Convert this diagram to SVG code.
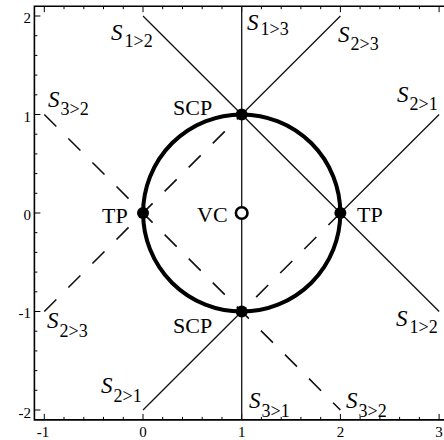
<svg xmlns="http://www.w3.org/2000/svg" width="444" height="440" viewBox="0 0 444 440">
<style>
.frame{fill:none;stroke:#000;stroke-width:1.6}
.tick{stroke:#000;stroke-width:1}
.ln{stroke:#111;stroke-width:1.3;fill:none}
.dash{stroke:#111;stroke-width:1.6;fill:none;stroke-dasharray:17 17}
.circ{fill:none;stroke:#000;stroke-width:4}
.dot{fill:#000}
.open{fill:#fff;stroke:#000;stroke-width:2.6}
.lbl{font-family:"Liberation Serif","Times New Roman",serif;font-size:22px;fill:#000}
.tk{font-family:"Liberation Serif","Times New Roman",serif;font-size:15px;fill:#000}
.s{font-family:"Liberation Serif","Times New Roman",serif;font-size:23px;font-style:italic;fill:#000}
.sub{font-size:18px;font-style:normal}
</style>
<rect width="444" height="440" fill="#fff"/>
<g id="frame">
<path class="frame" d="M450 6.2 H34.4 V419.9 H450"/>
<g class="tick">
<path d="M34.4 16h6M34.4 114.5h6M34.4 213h6M34.4 311.5h6M34.4 410h6"/>
<path d="M34.4 35.7h3M34.4 55.4h3M34.4 75.1h3M34.4 94.8h3M34.4 134.2h3M34.4 153.9h3M34.4 173.6h3M34.4 193.3h3M34.4 232.7h3M34.4 252.4h3M34.4 272.1h3M34.4 291.8h3M34.4 331.2h3M34.4 350.9h3M34.4 370.6h3M34.4 390.3h3"/>
<path d="M44.3 419.9v-6M143 419.9v-6M241.7 419.9v-6M340.4 419.9v-6M439.1 419.9v-6"/>
<path d="M64 419.9v-3M83.8 419.9v-3M103.5 419.9v-3M123.3 419.9v-3M162.7 419.9v-3M182.5 419.9v-3M202.2 419.9v-3M222 419.9v-3M261.4 419.9v-3M281.2 419.9v-3M300.9 419.9v-3M320.7 419.9v-3M360.1 419.9v-3M379.9 419.9v-3M399.6 419.9v-3M419.4 419.9v-3"/>
<path d="M44.3 6.2v6M143 6.2v6M241.7 6.2v6M340.4 6.2v6M439.1 6.2v6"/>
<path d="M64 6.2v3M83.8 6.2v3M103.5 6.2v3M123.3 6.2v3M162.7 6.2v3M182.5 6.2v3M202.2 6.2v3M222 6.2v3M261.4 6.2v3M281.2 6.2v3M300.9 6.2v3M320.7 6.2v3M360.1 6.2v3M379.9 6.2v3M399.6 6.2v3M419.4 6.2v3"/>
</g>
<g class="tk" text-anchor="end">
<text x="31" y="23">2</text>
<text x="31" y="122">1</text>
<text x="31" y="220">0</text>
<text x="31" y="318">-1</text>
<text x="31" y="418">-2</text>
</g>
<g class="tk" text-anchor="middle">
<text x="43" y="437">-1</text>
<text x="143" y="437">0</text>
<text x="241.7" y="437">1</text>
<text x="340.4" y="437">2</text>
<text x="439.1" y="437">3</text>
</g>
</g>
<g id="connectors">
<line class="ln" x1="241.7" y1="6.2" x2="241.7" y2="419.9"/>
<line class="ln" x1="143" y1="16" x2="439.1" y2="311.5"/>
<line class="dash" x1="44.3" y1="311.5" x2="241.7" y2="114.5"/>
<line class="ln" x1="241.7" y1="114.5" x2="340.4" y2="16"/>
<line class="ln" x1="439.1" y1="114.5" x2="340.4" y2="213"/>
<line class="dash" x1="340.4" y1="213" x2="241.7" y2="311.5"/>
<line class="ln" x1="241.7" y1="311.5" x2="143" y2="410"/>
<line class="dash" x1="44.3" y1="114.5" x2="340.4" y2="410"/>
</g>
<g id="circle">
<circle class="circ" cx="241.7" cy="213" r="98.6"/>
</g>
<g id="scp-top"><circle class="dot" cx="241.7" cy="114.5" r="6"/><text class="lbl" x="173" y="115">SCP</text></g>
<g id="scp-bottom"><circle class="dot" cx="241.7" cy="311.5" r="6"/><text class="lbl" x="173" y="333">SCP</text></g>
<g id="tp-left"><circle class="dot" cx="143" cy="213" r="6"/><text class="lbl" x="102" y="223">TP</text></g>
<g id="tp-right"><circle class="dot" cx="340.4" cy="213" r="6"/><text class="lbl" x="357" y="222">TP</text></g>
<g id="vc"><circle class="open" cx="241.7" cy="213" r="5.8"/><text class="lbl" x="197" y="222">VC</text></g>
<g id="labels">
<text class="s" x="111" y="40">S<tspan class="sub" dx="2" dy="7">1&gt;2</tspan></text>
<text class="s" x="247" y="30">S<tspan class="sub" dx="2" dy="5">1&gt;3</tspan></text>
<text class="s" x="338" y="42">S<tspan class="sub" dx="1" dy="8">2&gt;3</tspan></text>
<text class="s" x="48" y="107">S<tspan class="sub" dx="1" dy="8">3&gt;2</tspan></text>
<text class="s" x="397" y="102">S<tspan class="sub" dx="1" dy="8">2&gt;1</tspan></text>
<text class="s" x="47" y="328">S<tspan class="sub" dx="1" dy="9">2&gt;3</tspan></text>
<text class="s" x="101" y="393">S<tspan class="sub" dx="1" dy="9">2&gt;1</tspan></text>
<text class="s" x="249" y="408">S<tspan class="sub" dx="1" dy="9">3&gt;1</tspan></text>
<text class="s" x="346" y="408">S<tspan class="sub" dx="1" dy="9">3&gt;2</tspan></text>
<text class="s" x="396" y="326">S<tspan class="sub" dx="2" dy="7">1&gt;2</tspan></text>
</g>
</svg>
